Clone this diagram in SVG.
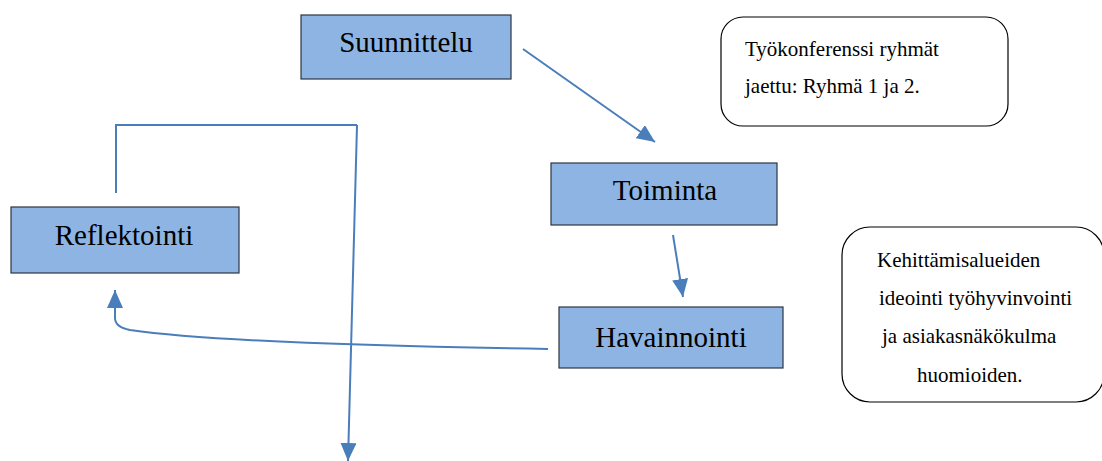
<svg xmlns="http://www.w3.org/2000/svg" width="1102" height="461" viewBox="0 0 1102 461">
<style>
.box{fill:#8EB4E3;stroke:#2E3440;stroke-width:1.2}
.note{fill:#FFFFFF;stroke:#000000;stroke-width:1.2}
.big{font-size:29px;fill:#000;text-anchor:middle}
.small{font-size:21px;fill:#000}
.conn{fill:none;stroke:#4A7EBB;stroke-width:2}
</style>
<defs>
<marker id="ah" viewBox="0 0 18 16" refX="18" refY="8" markerWidth="18" markerHeight="16" markerUnits="userSpaceOnUse" orient="auto">
<path d="M0,0 L18,8 L0,16 z" fill="#4A7EBB"/>
</marker>
</defs>
<rect width="1102" height="461" fill="#FFFFFF"/>
<g id="connectors">
<line class="conn" x1="523" y1="49" x2="655" y2="142" marker-end="url(#ah)"/>
<line class="conn" x1="673" y1="235" x2="683" y2="297" marker-end="url(#ah)"/>
<path class="conn" d="M548,349 C420,347 220,343 130,330 Q115,327 115,318 L115,290" marker-end="url(#ah)"/>
<polyline class="conn" points="116,193 116,125 357,125"/>
<line class="conn" x1="357" y1="125" x2="348" y2="461" marker-end="url(#ah)"/>
</g>
<g font-family="Liberation Serif, Times New Roman, serif">
<g id="suunnittelu">
<rect class="box" x="301" y="15" width="210" height="64"/>
<text class="big" x="406" y="52">Suunnittelu</text>
</g>
<g id="toiminta">
<rect class="box" x="551" y="163" width="226" height="62"/>
<text class="big" x="665" y="200">Toiminta</text>
</g>
<g id="havainnointi">
<rect class="box" x="559" y="307" width="224" height="61"/>
<text class="big" x="671" y="347">Havainnointi</text>
</g>
<g id="reflektointi">
<rect class="box" x="11" y="207" width="228" height="66"/>
<text class="big" x="124" y="245">Reflektointi</text>
</g>
<g id="tyokonferenssi">
<rect class="note" x="721" y="17" width="287" height="109" rx="22" ry="22"/>
<text class="small" x="745" y="56">Työkonferenssi ryhmät</text>
<text class="small" x="745" y="93">jaettu: Ryhmä 1 ja 2.</text>
</g>
<g id="kehittamisalueiden">
<rect class="note" x="842" y="227" width="262" height="175" rx="28" ry="28"/>
<text class="small" x="877" y="267">Kehittämisalueiden</text>
<text class="small" x="879" y="305">ideointi työhyvinvointi</text>
<text class="small" x="882" y="343">ja asiakasnäkökulma</text>
<text class="small" x="917" y="382">huomioiden.</text>
</g>
</g>
</svg>
